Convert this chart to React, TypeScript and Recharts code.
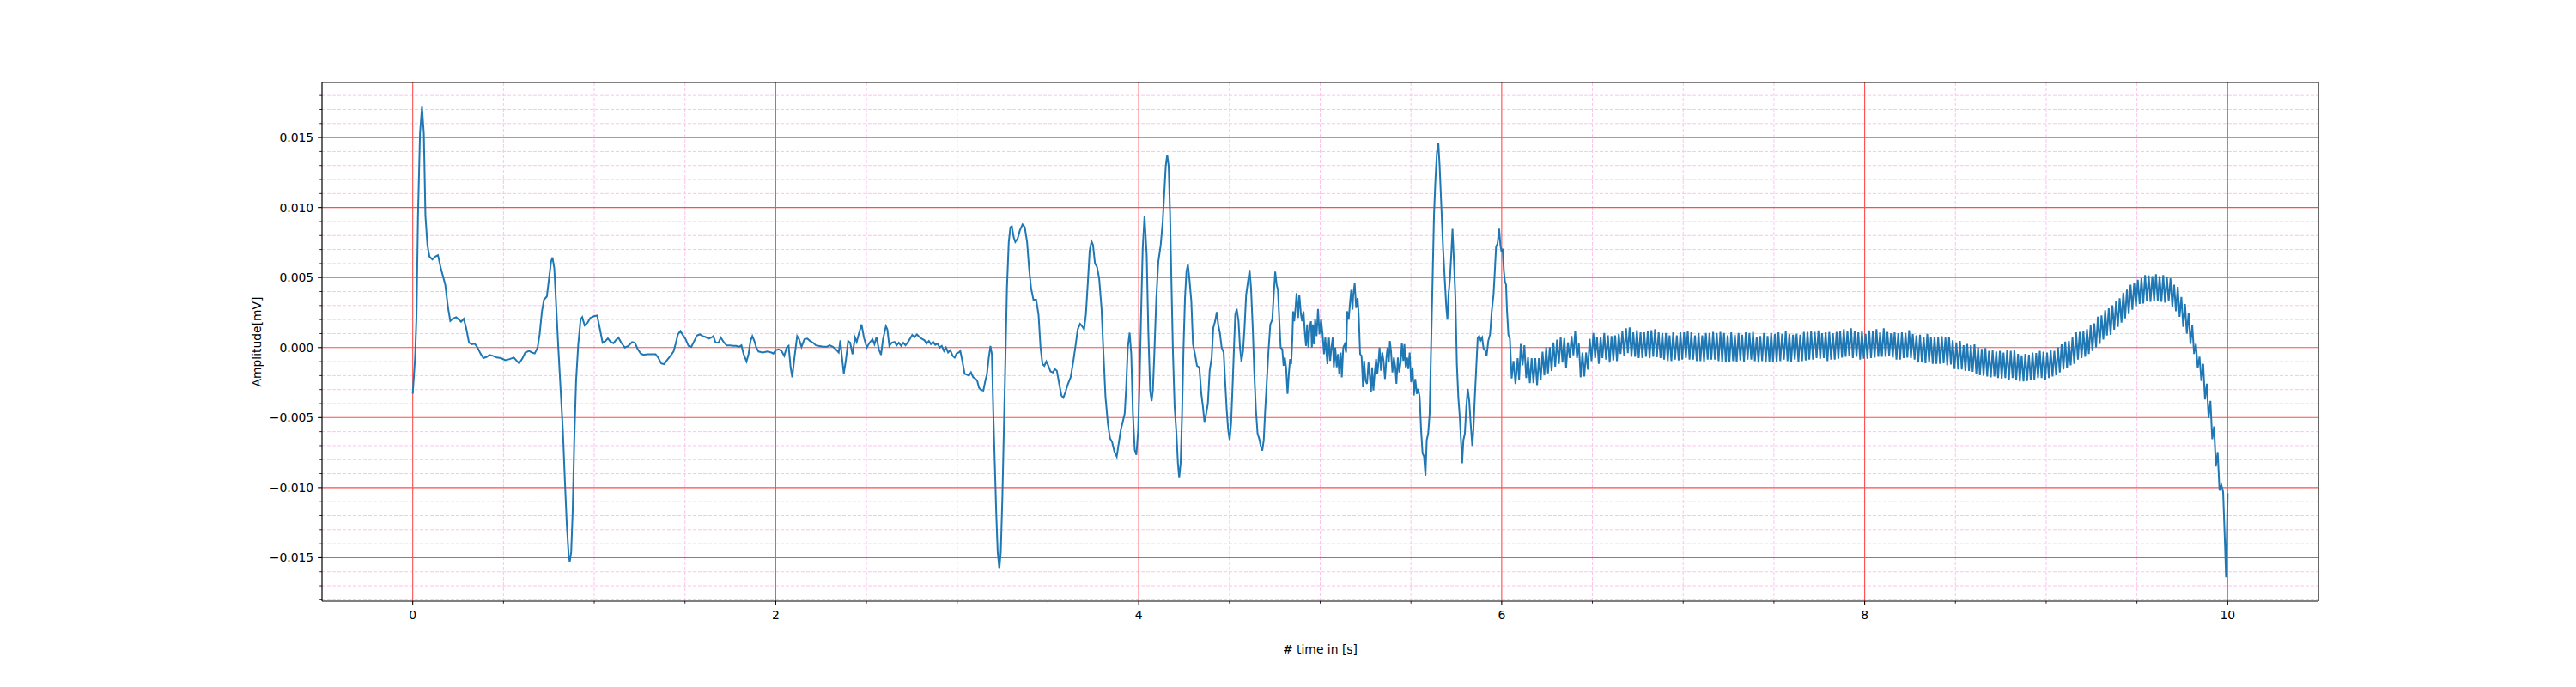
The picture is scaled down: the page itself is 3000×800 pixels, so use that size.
import React from 'react';
import { LineChart, Line, XAxis, YAxis, CartesianGrid, ReferenceLine, Label } from 'recharts';

// time [s], amplitude [mV]
const seg0to2: [number, number][] = [
  [0.000,-3.30e-3],[0.013,-0.70e-3],[0.021,2.36e-3],[0.029,9.40e-3],[0.040,15.3e-3],[0.051,17.2e-3],[0.061,15.3e-3],[0.070,9.40e-3],[0.081,7.30e-3],[0.092,6.50e-3],
  [0.108,6.30e-3],[0.124,6.50e-3],[0.139,6.60e-3],[0.155,5.65e-3],[0.179,4.50e-3],[0.195,2.80e-3],[0.207,1.90e-3],[0.221,2.07e-3],[0.239,2.17e-3],[0.255,2.00e-3],
  [0.266,1.84e-3],[0.281,2.05e-3],[0.294,1.41e-3],[0.310,0.35e-3],[0.326,0.24e-3],[0.341,0.28e-3],[0.357,0.00e-3],[0.373,-0.42e-3],[0.389,-0.75e-3],[0.408,-0.66e-3],
  [0.423,-0.52e-3],[0.442,-0.59e-3],[0.463,-0.71e-3],[0.486,-0.75e-3],[0.510,-0.90e-3],[0.534,-0.82e-3],[0.557,-0.71e-3],[0.573,-0.94e-3],[0.586,-1.13e-3],[0.605,-0.75e-3],
  [0.620,-0.35e-3],[0.641,-0.24e-3],[0.657,-0.35e-3],[0.672,-0.42e-3],[0.688,0.00e-3],[0.699,0.94e-3],[0.712,2.60e-3],[0.723,3.42e-3],[0.739,3.65e-3],[0.751,4.95e-3],
  [0.762,6.13e-3],[0.770,6.43e-3],[0.780,5.65e-3],[0.791,2.83e-3],[0.802,0.00e-3],[0.815,-3.06e-3],[0.827,-5.89e-3],[0.838,-9.43e-3],[0.849,-12.7e-3],[0.859,-14.8e-3],
  [0.865,-15.3e-3],[0.873,-14.6e-3],[0.881,-11.8e-3],[0.890,-6.60e-3],[0.900,-2.36e-3],[0.912,0.24e-3],[0.925,2.00e-3],[0.934,2.17e-3],[0.947,1.58e-3],[0.963,1.77e-3],
  [0.978,2.12e-3],[0.999,2.24e-3],[1.016,2.29e-3],[1.030,1.41e-3],[1.046,0.35e-3],[1.062,0.47e-3],[1.075,0.66e-3],[1.089,0.42e-3],[1.106,0.31e-3],[1.120,0.54e-3],
  [1.133,0.71e-3],[1.149,0.35e-3],[1.168,0.00e-3],[1.188,0.12e-3],[1.209,0.40e-3],[1.224,0.35e-3],[1.240,-0.12e-3],[1.256,-0.42e-3],[1.272,-0.52e-3],[1.291,-0.47e-3],
  [1.314,-0.47e-3],[1.338,-0.47e-3],[1.354,-0.75e-3],[1.369,-1.13e-3],[1.385,-1.18e-3],[1.401,-0.90e-3],[1.420,-0.59e-3],[1.437,-0.28e-3],[1.448,0.24e-3],[1.461,0.94e-3],
  [1.475,1.18e-3],[1.488,0.90e-3],[1.504,0.59e-3],[1.519,0.12e-3],[1.535,0.05e-3],[1.551,0.47e-3],[1.567,0.87e-3],[1.582,0.94e-3],[1.598,0.82e-3],[1.614,0.75e-3],
  [1.630,0.64e-3],[1.645,0.71e-3],[1.656,0.82e-3],[1.669,0.35e-3],[1.685,0.35e-3],[1.697,0.71e-3],[1.713,0.40e-3],[1.729,0.16e-3],[1.748,0.16e-3],[1.767,0.12e-3],
  [1.782,0.12e-3],[1.798,0.05e-3],[1.811,0.16e-3],[1.823,-0.47e-3],[1.839,-0.99e-3],[1.850,-0.47e-3],[1.861,0.47e-3],[1.871,0.82e-3],[1.882,0.47e-3],[1.893,0.00e-3],
  [1.905,-0.28e-3],[1.929,-0.35e-3],[1.953,-0.28e-3],[1.976,-0.35e-3],[1.987,-0.42e-3],
];

const seg2to4: [number, number][] = [
  [2.000,-0.19e-3],[2.016,-0.12e-3],[2.032,-0.24e-3],[2.047,-0.59e-3],[2.060,0.00e-3],[2.071,0.12e-3],[2.082,-1.41e-3],[2.091,-2.12e-3],[2.103,-0.71e-3],[2.118,0.82e-3],
  [2.129,0.59e-3],[2.142,0.05e-3],[2.158,0.59e-3],[2.174,0.64e-3],[2.189,0.47e-3],[2.205,0.35e-3],[2.221,0.16e-3],[2.237,0.12e-3],[2.260,0.07e-3],[2.284,0.07e-3],
  [2.297,0.16e-3],[2.315,0.05e-3],[2.331,-0.12e-3],[2.347,-0.35e-3],[2.356,0.52e-3],[2.363,-0.47e-3],[2.375,-1.84e-3],[2.386,-0.94e-3],[2.399,0.47e-3],[2.410,0.35e-3],
  [2.423,-0.47e-3],[2.437,0.71e-3],[2.446,0.40e-3],[2.457,0.94e-3],[2.473,1.65e-3],[2.486,0.71e-3],[2.502,0.00e-3],[2.517,0.35e-3],[2.533,0.59e-3],[2.544,0.24e-3],
  [2.555,0.75e-3],[2.568,-0.12e-3],[2.580,-0.52e-3],[2.591,0.59e-3],[2.607,1.53e-3],[2.615,1.30e-3],[2.626,0.12e-3],[2.639,0.35e-3],[2.655,0.40e-3],[2.666,0.16e-3],
  [2.678,0.35e-3],[2.691,0.12e-3],[2.703,0.35e-3],[2.715,0.16e-3],[2.726,0.35e-3],[2.738,0.59e-3],[2.752,0.90e-3],[2.765,0.75e-3],[2.778,0.94e-3],[2.792,0.75e-3],
  [2.804,0.64e-3],[2.820,0.52e-3],[2.831,0.28e-3],[2.844,0.47e-3],[2.855,0.24e-3],[2.867,0.42e-3],[2.879,0.19e-3],[2.891,0.28e-3],[2.904,0.00e-3],[2.915,0.12e-3],
  [2.927,-0.24e-3],[2.938,0.00e-3],[2.950,-0.35e-3],[2.962,-0.19e-3],[2.975,-0.59e-3],[2.986,-0.71e-3],[2.997,-0.42e-3],[3.009,-0.35e-3],[3.017,-0.24e-3],[3.028,-0.94e-3],
  [3.041,-1.88e-3],[3.054,-1.93e-3],[3.065,-2.00e-3],[3.076,-1.77e-3],[3.088,-2.12e-3],[3.101,-2.24e-3],[3.110,-2.36e-3],[3.120,-2.87e-3],[3.131,-3.02e-3],[3.144,-3.06e-3],
  [3.155,-2.36e-3],[3.164,-1.88e-3],[3.174,-0.71e-3],[3.183,0.12e-3],[3.191,-0.47e-3],[3.199,-4.71e-3],[3.207,-8.25e-3],[3.215,-11.8e-3],[3.223,-14.6e-3],[3.232,-15.8e-3],
  [3.240,-14.6e-3],[3.249,-10.6e-3],[3.259,-4.71e-3],[3.267,0.00e-3],[3.274,4.24e-3],[3.284,7.54e-3],[3.293,8.60e-3],[3.301,8.67e-3],[3.311,7.89e-3],[3.320,7.54e-3],
  [3.333,7.78e-3],[3.345,8.36e-3],[3.360,8.79e-3],[3.372,8.60e-3],[3.385,7.54e-3],[3.396,5.65e-3],[3.407,4.24e-3],[3.420,3.42e-3],[3.435,3.42e-3],[3.448,2.36e-3],
  [3.459,0.00e-3],[3.470,-1.18e-3],[3.480,-1.30e-3],[3.491,-0.99e-3],[3.502,-1.30e-3],[3.514,-1.70e-3],[3.527,-1.77e-3],[3.538,-1.53e-3],[3.549,-1.65e-3],[3.562,-2.59e-3],
  [3.574,-3.42e-3],[3.585,-3.58e-3],[3.598,-3.11e-3],[3.609,-2.64e-3],[3.625,-2.12e-3],[3.640,-0.94e-3],[3.653,0.24e-3],[3.664,1.30e-3],[3.677,1.70e-3],[3.688,1.53e-3],
  [3.699,1.30e-3],[3.709,2.36e-3],[3.720,4.71e-3],[3.730,6.95e-3],[3.740,7.59e-3],[3.748,7.35e-3],[3.759,6.01e-3],[3.770,5.77e-3],[3.782,4.95e-3],[3.795,2.83e-3],
  [3.806,-0.47e-3],[3.817,-3.53e-3],[3.830,-5.42e-3],[3.842,-6.48e-3],[3.853,-6.72e-3],[3.866,-7.42e-3],[3.879,-7.78e-3],[3.890,-6.83e-3],[3.901,-5.89e-3],[3.912,-5.30e-3],
  [3.923,-4.71e-3],[3.931,-2.83e-3],[3.940,0.00e-3],[3.950,1.06e-3],[3.959,-0.47e-3],[3.968,-4.71e-3],[3.978,-7.30e-3],[3.987,-7.66e-3],[3.997,-5.89e-3],[4.005,-2.36e-3],
  [4.013,2.36e-3],[4.022,7.07e-3],[4.032,9.40e-3],
];

const seg4to6: [number, number][] = [
  [4.044,6.60e-3],[4.053,1.18e-3],[4.063,-3.06e-3],[4.071,-3.82e-3],[4.078,-3.06e-3],[4.086,-0.47e-3],[4.097,3.53e-3],[4.108,6.13e-3],[4.121,7.30e-3],[4.132,8.95e-3],
  [4.141,11.07e-3],[4.149,12.96e-3],[4.157,13.78e-3],[4.165,12.96e-3],[4.173,9.43e-3],[4.181,4.24e-3],[4.189,-0.47e-3],[4.198,-4.24e-3],[4.208,-6.13e-3],[4.216,-8.25e-3],
  [4.223,-9.31e-3],[4.231,-8.25e-3],[4.239,-4.71e-3],[4.247,0.00e-3],[4.255,3.53e-3],[4.263,5.42e-3],[4.271,5.94e-3],[4.279,4.95e-3],[4.290,3.30e-3],[4.299,0.24e-3],
  [4.310,-0.47e-3],[4.321,-1.30e-3],[4.334,-1.41e-3],[4.345,-3.30e-3],[4.354,-4.24e-3],[4.362,-5.30e-3],[4.372,-4.71e-3],[4.381,-4.00e-3],[4.391,-1.65e-3],[4.402,-0.71e-3],
  [4.411,1.41e-3],[4.421,1.88e-3],[4.430,2.54e-3],[4.438,1.65e-3],[4.447,1.06e-3],[4.457,0.00e-3],[4.468,-0.35e-3],[4.476,-2.36e-3],[4.485,-4.48e-3],[4.493,-5.89e-3],
  [4.501,-6.60e-3],[4.509,-5.42e-3],[4.517,-2.83e-3],[4.525,0.00e-3],[4.532,2.36e-3],[4.540,2.76e-3],[4.550,1.88e-3],[4.558,0.00e-3],[4.566,-0.99e-3],[4.575,-0.24e-3],
  [4.583,1.41e-3],[4.592,3.77e-3],[4.602,4.71e-3],[4.611,5.54e-3],[4.619,4.24e-3],[4.629,1.18e-3],[4.637,-1.88e-3],[4.646,-4.48e-3],[4.655,-6.13e-3],[4.665,-6.55e-3],
  [4.673,-7.07e-3],[4.681,-7.35e-3],[4.689,-6.60e-3],[4.696,-4.71e-3],[4.706,-2.36e-3],[4.715,-0.24e-3],[4.725,1.65e-3],[4.736,2.00e-3],[4.744,3.77e-3],[4.752,5.42e-3],
  [4.760,4.48e-3],[4.767,4.12e-3],[4.775,1.88e-3],[4.782,0.00e-3],[4.791,-0.12e-3],[4.798,-1.30e-3],[4.805,-0.71e-3],[4.812,-1.41e-3],[4.820,-3.30e-3],[4.827,-1.88e-3],
  [4.834,-0.82e-3],[4.840,-1.18e-3],[4.846,0.47e-3],[4.851,2.59e-3],[4.857,1.88e-3],[4.864,2.83e-3],[4.870,3.89e-3],[4.878,2.12e-3],[4.885,3.77e-3],[4.894,2.36e-3],
  [4.900,1.88e-3],[4.908,2.59e-3],[4.916,0.94e-3],[4.922,0.12e-3],[4.928,1.65e-3],[4.935,0.00e-3],[4.941,1.41e-3],[4.949,1.88e-3],[4.954,0.00e-3],[4.960,1.65e-3],
  [4.966,0.24e-3],[4.972,2.00e-3],[4.980,0.82e-3],[4.988,2.76e-3],[4.996,0.94e-3],[5.005,2.00e-3],[5.013,0.94e-3],[5.021,-0.47e-3],[5.028,0.71e-3],[5.034,-0.35e-3],
  [5.040,-1.18e-3],[5.048,0.71e-3],[5.055,-0.94e-3],[5.062,0.00e-3],[5.069,0.71e-3],[5.075,-1.41e-3],[5.083,0.00e-3],[5.091,-1.41e-3],[5.098,-0.47e-3],[5.105,-1.88e-3],
  [5.113,-0.35e-3],[5.119,-2.12e-3],[5.127,0.00e-3],[5.135,0.24e-3],[5.143,-0.35e-3],[5.149,2.59e-3],[5.157,2.00e-3],[5.165,3.30e-3],[5.171,4.12e-3],[5.178,2.71e-3],
  [5.182,3.77e-3],[5.190,4.59e-3],[5.198,2.83e-3],[5.206,3.53e-3],[5.212,2.36e-3],[5.220,-0.47e-3],[5.228,-0.59e-3],[5.236,-2.83e-3],[5.242,-0.94e-3],[5.250,-2.36e-3],
  [5.258,-2.59e-3],[5.266,-1.06e-3],[5.274,-2.12e-3],[5.280,-3.18e-3],[5.286,-1.41e-3],[5.293,-3.06e-3],[5.300,-1.88e-3],[5.308,-0.82e-3],[5.315,-1.88e-3],[5.321,-1.06e-3],
  [5.327,0.00e-3],[5.335,-1.65e-3],[5.342,-0.35e-3],[5.349,-0.94e-3],[5.357,-2.24e-3],[5.365,-0.71e-3],[5.371,0.00e-3],[5.378,-1.06e-3],[5.384,0.47e-3],[5.390,-0.24e-3],
  [5.398,-1.77e-3],[5.406,-0.71e-3],[5.414,-1.41e-3],[5.420,-2.59e-3],[5.428,-0.71e-3],[5.436,-1.77e-3],[5.444,-0.94e-3],[5.450,0.35e-3],[5.458,-0.94e-3],[5.464,0.24e-3],
  [5.471,-1.41e-3],[5.479,-0.71e-3],[5.485,-1.53e-3],[5.493,-0.35e-3],[5.501,-2.47e-3],[5.509,-1.41e-3],[5.516,-3.42e-3],[5.524,-2.24e-3],[5.532,-3.30e-3],[5.540,-2.95e-3],
  [5.548,-3.53e-3],[5.556,-5.89e-3],[5.564,-7.54e-3],[5.572,-7.78e-3],[5.580,-9.14e-3],[5.587,-6.60e-3],[5.595,-6.13e-3],[5.603,-4.71e-3],[5.611,0.00e-3],[5.619,4.71e-3],
  [5.627,9.43e-3],[5.635,12.0e-3],[5.643,13.9e-3],[5.651,14.6e-3],[5.658,12.96e-3],[5.668,9.90e-3],[5.677,7.07e-3],[5.687,4.71e-3],[5.695,2.83e-3],[5.701,2.00e-3],
  [5.707,3.77e-3],[5.715,4.95e-3],[5.722,6.60e-3],[5.729,8.48e-3],[5.737,6.13e-3],[5.745,3.53e-3],[5.753,-1.18e-3],[5.761,-3.53e-3],[5.769,-4.95e-3],[5.782,-8.25e-3],
  [5.789,-6.60e-3],[5.797,-6.13e-3],[5.805,-4.24e-3],[5.813,-2.95e-3],[5.821,-3.77e-3],[5.829,-5.42e-3],[5.838,-7.02e-3],[5.844,-5.89e-3],[5.852,-3.53e-3],[5.860,-1.41e-3],
  [5.868,0.71e-3],[5.876,0.82e-3],[5.884,0.52e-3],[5.892,0.71e-3],[5.900,-0.07e-3],[5.907,-0.12e-3],[5.917,-0.59e-3],[5.926,0.47e-3],[5.936,0.94e-3],[5.945,2.59e-3],
  [5.955,3.77e-3],[5.963,5.65e-3],[5.969,7.19e-3],[5.977,7.42e-3],[5.986,8.48e-3],[5.993,7.30e-3],[5.999,6.83e-3],
];

const seg6to8: [number, number][] = [
  [6.005,7.07e-3],[6.012,5.50e-3],[6.018,4.70e-3],[6.024,4.50e-3],[6.029,2.70e-3],[6.037,0.90e-3],[6.045,0.65e-3],[6.055,-2.20e-3],[6.065,-0.95e-3],[6.076,-2.60e-3],
  [6.088,-0.75e-3],[6.096,-2.30e-3],
  [6.105,0.26e-3],[6.115,-1.26e-3],[6.125,0.16e-3],[6.135,-2.17e-3],[6.145,-0.69e-3],[6.155,-2.54e-3],[6.165,-0.75e-3],[6.175,-2.54e-3],[6.185,-0.75e-3],[6.195,-2.68e-3],
  [6.205,-0.75e-3],[6.215,-2.28e-3],[6.225,-0.30e-3],[6.235,-1.97e-3],[6.245,0.02e-3],[6.255,-1.83e-3],[6.265,0.02e-3],[6.275,-1.67e-3],[6.285,0.37e-3],[6.295,-1.36e-3],
  [6.305,0.57e-3],[6.315,-1.16e-3],[6.325,0.77e-3],[6.335,-1.06e-3],[6.345,0.67e-3],[6.355,-1.46e-3],[6.365,0.37e-3],[6.375,-0.75e-3],[6.385,0.83e-3],[6.395,-0.55e-3],
  [6.405,1.18e-3],[6.415,-0.75e-3],[6.425,0.30e-3],[6.435,-2.13e-3],[6.445,-0.35e-3],[6.455,-2.07e-3],[6.465,-0.35e-3],[6.475,-1.57e-3],[6.485,0.63e-3],[6.495,-0.96e-3],
  [6.505,1.04e-3],[6.515,-0.75e-3],[6.525,0.77e-3],[6.535,-1.16e-3],[6.545,0.77e-3],[6.555,-0.75e-3],[6.565,1.04e-3],[6.575,-0.85e-3],[6.585,0.87e-3],[6.595,-1.06e-3],
  [6.605,0.83e-3],[6.615,-0.91e-3],[6.625,0.87e-3],[6.635,-0.96e-3],[6.645,0.98e-3],[6.655,-0.45e-3],[6.665,1.18e-3],[6.675,-0.59e-3],[6.685,1.38e-3],[6.695,-0.39e-3],
  [6.705,1.44e-3],[6.715,-0.65e-3],[6.725,1.08e-3],[6.735,-0.65e-3],[6.745,1.24e-3],[6.755,-0.75e-3],[6.765,1.08e-3],[6.775,-0.75e-3],[6.785,1.08e-3],[6.795,-0.65e-3],
  [6.805,1.14e-3],[6.815,-0.75e-3],[6.825,1.24e-3],[6.835,-0.65e-3],[6.845,1.32e-3],[6.855,-0.69e-3],[6.865,1.08e-3],[6.875,-0.75e-3],[6.885,1.04e-3],[6.895,-0.85e-3],
  [6.905,1.04e-3],[6.915,-0.96e-3],[6.925,0.87e-3],[6.935,-0.96e-3],[6.945,1.08e-3],[6.955,-0.85e-3],[6.965,0.87e-3],[6.975,-0.91e-3],[6.985,1.08e-3],[6.995,-0.85e-3],
  [7.005,1.08e-3],[7.015,-0.75e-3],[7.025,1.18e-3],[7.035,-0.85e-3],[7.045,1.08e-3],[7.055,-0.85e-3],[7.065,0.87e-3],[7.075,-0.96e-3],[7.085,1.04e-3],[7.095,-0.96e-3],
  [7.105,0.87e-3],[7.115,-1.00e-3],[7.125,1.04e-3],[7.135,-0.85e-3],[7.145,1.04e-3],[7.155,-0.85e-3],[7.165,1.12e-3],[7.175,-0.85e-3],[7.185,1.04e-3],[7.195,-0.96e-3],
  [7.205,1.12e-3],[7.215,-1.00e-3],[7.225,1.04e-3],[7.235,-1.06e-3],[7.245,0.87e-3],[7.255,-1.00e-3],[7.265,1.08e-3],[7.275,-0.96e-3],[7.285,0.91e-3],[7.295,-1.06e-3],
  [7.305,1.04e-3],[7.315,-0.91e-3],[7.325,0.91e-3],[7.335,-1.00e-3],[7.345,1.08e-3],[7.355,-0.85e-3],[7.365,1.04e-3],[7.375,-0.85e-3],[7.385,1.12e-3],[7.395,-0.96e-3],
  [7.405,0.77e-3],[7.415,-1.06e-3],[7.425,0.83e-3],[7.435,-0.96e-3],[7.445,1.04e-3],[7.455,-1.06e-3],[7.465,0.83e-3],[7.475,-1.00e-3],[7.485,1.04e-3],[7.495,-1.00e-3],
  [7.505,0.98e-3],[7.515,-1.06e-3],[7.525,1.08e-3],[7.535,-0.96e-3],[7.545,0.98e-3],[7.555,-0.85e-3],[7.565,1.18e-3],[7.575,-0.96e-3],[7.585,0.98e-3],[7.595,-1.00e-3],
  [7.605,0.91e-3],[7.615,-0.85e-3],[7.625,0.98e-3],[7.635,-1.00e-3],[7.645,0.91e-3],[7.655,-0.96e-3],[7.665,1.12e-3],[7.675,-0.91e-3],[7.685,1.12e-3],[7.695,-0.85e-3],
  [7.705,1.18e-3],[7.715,-0.85e-3],[7.725,1.12e-3],[7.735,-0.75e-3],[7.745,1.22e-3],[7.755,-0.79e-3],[7.765,1.02e-3],[7.775,-0.75e-3],[7.785,1.08e-3],[7.795,-0.96e-3],
  [7.805,1.12e-3],[7.815,-0.85e-3],[7.825,1.02e-3],[7.835,-0.85e-3],[7.845,1.12e-3],[7.855,-0.79e-3],[7.865,1.18e-3],[7.875,-0.71e-3],[7.885,1.32e-3],[7.895,-0.65e-3],
  [7.905,1.18e-3],[7.915,-0.59e-3],[7.925,1.38e-3],[7.935,-0.75e-3],[7.945,1.18e-3],[7.955,-0.65e-3],[7.965,1.08e-3],[7.975,-0.85e-3],[7.985,1.18e-3],[7.995,-0.79e-3],
];

const seg8to10: [number, number][] = [
  [8.005,0.98e-3],[8.015,-0.79e-3],[8.025,1.22e-3],[8.035,-0.75e-3],[8.045,1.18e-3],[8.055,-0.71e-3],[8.065,1.32e-3],[8.075,-0.65e-3],[8.085,1.08e-3],[8.095,-0.65e-3],
  [8.105,1.38e-3],[8.115,-0.65e-3],[8.125,1.12e-3],[8.135,-0.59e-3],[8.145,1.02e-3],[8.155,-0.71e-3],[8.165,1.08e-3],[8.175,-0.85e-3],[8.185,1.02e-3],[8.195,-0.85e-3],
  [8.205,1.08e-3],[8.215,-0.75e-3],[8.225,1.04e-3],[8.235,-0.71e-3],[8.245,1.24e-3],[8.255,-0.75e-3],[8.265,0.98e-3],[8.275,-0.85e-3],[8.285,0.87e-3],[8.295,-1.06e-3],
  [8.305,0.91e-3],[8.315,-1.06e-3],[8.325,0.77e-3],[8.335,-1.12e-3],[8.345,0.98e-3],[8.355,-1.06e-3],[8.365,0.71e-3],[8.375,-1.16e-3],[8.385,0.77e-3],[8.395,-1.16e-3],
  [8.405,0.71e-3],[8.415,-1.16e-3],[8.425,0.81e-3],[8.435,-1.12e-3],[8.445,0.71e-3],[8.455,-1.26e-3],[8.465,0.77e-3],[8.475,-1.20e-3],[8.485,0.51e-3],[8.495,-1.52e-3],
  [8.505,0.37e-3],[8.515,-1.56e-3],[8.525,0.47e-3],[8.535,-1.56e-3],[8.545,0.16e-3],[8.555,-1.67e-3],[8.565,0.26e-3],[8.575,-1.67e-3],[8.585,0.16e-3],[8.595,-1.73e-3],
  [8.605,0.22e-3],[8.615,-1.87e-3],[8.625,0.02e-3],[8.635,-1.97e-3],[8.645,-0.10e-3],[8.655,-2.01e-3],[8.665,-0.04e-3],[8.675,-2.07e-3],[8.685,-0.24e-3],[8.695,-2.13e-3],
  [8.705,-0.18e-3],[8.715,-2.07e-3],[8.725,-0.28e-3],[8.735,-2.17e-3],[8.745,-0.24e-3],[8.755,-2.22e-3],[8.765,-0.35e-3],[8.775,-2.17e-3],[8.785,-0.18e-3],[8.795,-2.28e-3],
  [8.805,-0.24e-3],[8.815,-2.17e-3],[8.825,-0.18e-3],[8.835,-2.28e-3],[8.845,-0.45e-3],[8.855,-2.42e-3],[8.865,-0.55e-3],[8.875,-2.42e-3],[8.885,-0.45e-3],[8.895,-2.38e-3],
  [8.905,-0.51e-3],[8.915,-2.34e-3],[8.925,-0.35e-3],[8.935,-2.28e-3],[8.945,-0.39e-3],[8.955,-2.17e-3],[8.965,-0.24e-3],[8.975,-2.17e-3],[8.985,-0.30e-3],[8.995,-2.28e-3],
  [9.005,-0.35e-3],[9.015,-2.17e-3],[9.025,-0.18e-3],[9.035,-2.07e-3],[9.045,-0.24e-3],[9.055,-1.97e-3],[9.065,0.02e-3],[9.075,-1.77e-3],[9.085,0.22e-3],[9.095,-1.56e-3],
  [9.105,0.43e-3],[9.115,-1.46e-3],[9.125,0.47e-3],[9.135,-1.26e-3],[9.145,0.71e-3],[9.155,-1.16e-3],[9.165,1.08e-3],[9.175,-0.85e-3],[9.185,1.12e-3],[9.195,-0.75e-3],
  [9.205,1.18e-3],[9.215,-0.65e-3],[9.225,1.32e-3],[9.235,-0.45e-3],[9.245,1.59e-3],[9.255,-0.24e-3],[9.265,1.73e-3],[9.275,0.02e-3],[9.285,2.20e-3],[9.295,0.26e-3],
  [9.305,2.30e-3],[9.315,0.57e-3],[9.325,2.67e-3],[9.335,0.87e-3],[9.345,2.80e-3],[9.355,0.91e-3],[9.365,3.01e-3],[9.375,1.28e-3],[9.385,3.31e-3],[9.395,1.48e-3],
  [9.405,3.52e-3],[9.415,1.79e-3],[9.425,3.92e-3],[9.435,2.09e-3],[9.445,4.13e-3],[9.455,2.40e-3],[9.465,4.49e-3],[9.475,2.70e-3],[9.485,4.63e-3],[9.495,2.95e-3],
  [9.505,4.84e-3],[9.515,3.11e-3],[9.525,4.94e-3],[9.535,3.15e-3],[9.545,5.18e-3],[9.555,3.31e-3],[9.565,5.14e-3],[9.575,3.27e-3],[9.585,5.10e-3],[9.595,3.31e-3],
  [9.605,5.24e-3],[9.615,3.31e-3],[9.625,5.10e-3],[9.635,3.27e-3],[9.645,5.18e-3],[9.655,3.21e-3],[9.665,5.04e-3],[9.675,3.31e-3],[9.685,4.94e-3],[9.695,2.91e-3],
  [9.705,4.49e-3],[9.715,2.60e-3],[9.725,4.33e-3],[9.735,2.20e-3],[9.745,3.62e-3],[9.755,1.48e-3],[9.765,3.11e-3],[9.775,0.98e-3],[9.785,2.50e-3],[9.795,0.26e-3],
  [9.805,1.59e-3],[9.815,-0.45e-3],[9.825,0.26e-3],[9.835,-1.46e-3],[9.845,-0.65e-3],[9.855,-2.38e-3],[9.865,-1.16e-3],[9.875,-3.70e-3],[9.885,-2.58e-3],[9.895,-5.02e-3],
  [9.905,-3.80e-3],[9.915,-6.54e-3],[9.925,-5.63e-3],[9.935,-8.48e-3],[9.945,-7.46e-3],[9.955,-10.2e-3],[9.965,-9.80e-3],[9.975,-10.3e-3],[9.985,-13.96e-3],[9.991,-16.4e-3],
  [10.000,-10.4e-3],
];

const xMajorTicks = [0, 2, 4, 6, 8, 10];
const xMinorTicks = [0.5, 1, 1.5, 2.5, 3, 3.5, 4.5, 5, 5.5, 6.5, 7, 7.5, 8.5, 9, 9.5];
const yMajorTicks = [-0.015, -0.01, -0.005, 0, 0.005, 0.01, 0.015];
const yMinorTicks = [
  -0.018, -0.017, -0.016, -0.014, -0.013, -0.012, -0.011, -0.009, -0.008, -0.007, -0.006,
  -0.004, -0.003, -0.002, -0.001, 0.001, 0.002, 0.003, 0.004, 0.006, 0.007, 0.008, 0.009,
  0.011, 0.012, 0.013, 0.014, 0.016, 0.017, 0.018,
];
const xDomain: [number, number] = [-0.5, 10.5];
const yDomain: [number, number] = [-0.0181, 0.01893];

const data = [...seg0to2, ...seg2to4, ...seg4to6, ...seg6to8, ...seg8to10].map(([t, v]) => ({ t, v }));

const FONT = "'DejaVu Sans', Verdana, sans-serif";
const near = (a: number, list: number[]) => list.some((m) => Math.abs(m - a) < 1e-9);
const fmtY = (v: number) => {
  const s = Math.abs(v) < 1e-12 ? '0.000' : v.toFixed(3);
  return s.replace('-', '\u2212');
};

const XTick = (props: any) => {
  const { x, y, payload } = props;
  const major = near(payload.value, xMajorTicks);
  return (
    <g>
      <line x1={x} x2={x} y1={y} y2={y + (major ? 4.9 : 2.8)} stroke="#000" strokeWidth={major ? 1.1 : 0.85} />
      {major && (
        <text x={x} y={y + 20.8} textAnchor="middle" fontSize={13.9} fontFamily={FONT} fill="#000">
          {String(payload.value)}
        </text>
      )}
    </g>
  );
};

const YTick = (props: any) => {
  const { x, y, payload } = props;
  const major = near(payload.value, yMajorTicks);
  return (
    <g>
      <line x1={x} x2={x - (major ? 4.9 : 2.8)} y1={y} y2={y} stroke="#000" strokeWidth={major ? 1.1 : 0.85} />
      {major && (
        <text x={x - 9.8} y={y + 5} textAnchor="end" fontSize={13.9} fontFamily={FONT} fill="#000">
          {fmtY(payload.value)}
        </text>
      )}
    </g>
  );
};

export default function App() {
  return (
    <div style={{ position: 'absolute', left: 0, top: 0, width: 3000, height: 800, background: '#fff' }}>
      <LineChart width={3000} height={800} data={data} margin={{ top: 96, right: 300, bottom: 0, left: 222 }}>
        <CartesianGrid
          stroke="#fcc4ec"
          strokeDasharray="4 2"
          strokeWidth={1}
          horizontalValues={yMinorTicks}
          verticalValues={xMinorTicks}
        />
        <CartesianGrid
          stroke="#ff4d4d"
          strokeWidth={1.1}
          horizontalValues={yMajorTicks}
          verticalValues={xMajorTicks}
        />
        <XAxis
          dataKey="t"
          type="number"
          domain={xDomain}
          allowDataOverflow
          ticks={[...xMajorTicks, ...xMinorTicks]}
          interval={0}
          tick={<XTick />}
          tickLine={false}
          tickSize={0}
          tickMargin={0}
          axisLine={{ stroke: '#000', strokeWidth: 1.2 }}
          height={100}
        >
          <Label
            content={(p: any) => {
              const vb = p.viewBox || { x: 375, y: 700, width: 2325 };
              return (
                <text x={vb.x + vb.width / 2} y={vb.y + 60.5} textAnchor="middle" fontSize={13.9} fontFamily={FONT} fill="#000">
                  # time in [s]
                </text>
              );
            }}
          />
        </XAxis>
        <YAxis
          type="number"
          domain={yDomain}
          allowDataOverflow
          ticks={[...yMajorTicks, ...yMinorTicks]}
          interval={0}
          tick={<YTick />}
          tickLine={false}
          tickSize={0}
          tickMargin={0}
          axisLine={{ stroke: '#000', strokeWidth: 1.2 }}
          width={153}
        >
          <Label
            content={(p: any) => {
              const vb = p.viewBox || { x: 222, y: 96, width: 153, height: 604 };
              const cx = vb.x + vb.width - 71.5;
              const cy = vb.y + vb.height / 2;
              return (
                <text transform={`translate(${cx}, ${cy}) rotate(-90)`} x={0} y={0} textAnchor="middle" fontSize={13.9} fontFamily={FONT} fill="#000">
                  Amplitude[mV]
                </text>
              );
            }}
          />
        </YAxis>
        <ReferenceLine y={yDomain[1]} stroke="#000" strokeWidth={1.2} ifOverflow="visible" />
        <ReferenceLine x={xDomain[1]} stroke="#000" strokeWidth={1.2} ifOverflow="visible" />
        <Line
          type="linear"
          dataKey="v"
          stroke="#1f77b4"
          strokeWidth={2}
          dot={false}
          activeDot={false}
          isAnimationActive={false}
        />
      </LineChart>
    </div>
  );
}
